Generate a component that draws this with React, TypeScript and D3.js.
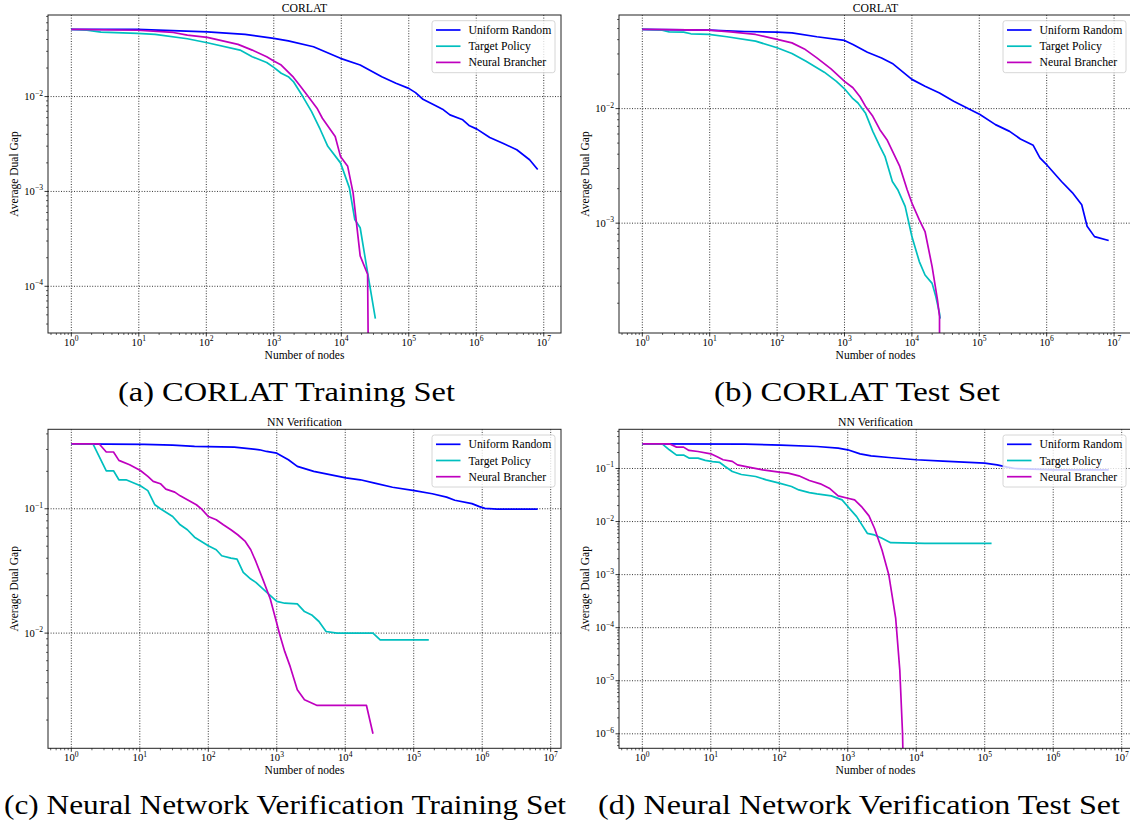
import React from 'react';
import * as d3 from 'd3';

type Pt = [number, number];

// [number of nodes, average dual gap]; a gap of 0 is the final drop to -inf on the log axis
const corlatTrainUniform: Pt[] = [[1, 0.051], [9.5, 0.051], [103.5, 0.0482], [376, 0.0452], [1000, 0.041], [1641, 0.0387], [3873, 0.0335], [9727, 0.0253], [19055, 0.0215], [39811, 0.0162], [64565, 0.0138], [1e5, 0.0122], [125893, 0.011], [162181, 0.00937], [251189, 0.00798], [316228, 0.00736], [407380, 0.00641], [630957, 0.00569], [794328, 0.00492], [1023293, 0.00454], [1584893, 0.00371], [2570396, 0.00318], [3981072, 0.00275], [6165950, 0.00216], [8128305, 0.0017]];
const corlatTrainTarget: Pt[] = [[1, 0.051], [1.7, 0.05], [2.75, 0.0478], [9.5, 0.0463], [17.4, 0.0452], [52.5, 0.0407], [103.5, 0.0369], [316, 0.0309], [479, 0.0263], [785, 0.0229], [1000, 0.0203], [1288, 0.0176], [1641, 0.0162], [1950, 0.0144], [2692, 0.01], [3631, 0.00695], [4898, 0.00447], [6310, 0.00299], [9727, 0.002], [10351, 0.00177], [13183, 0.00109], [15849, 0.000506], [19055, 0.000414], [24547, 0.000139], [31989, 0.0000457]];
const corlatTrainNeural: Pt[] = [[1, 0.051], [9.5, 0.05], [32.4, 0.0474], [52.5, 0.0445], [103.5, 0.042], [295, 0.0355], [479, 0.0309], [785, 0.0263], [1000, 0.0237], [1288, 0.0215], [1950, 0.016], [2512, 0.0127], [3236, 0.01], [4365, 0.00754], [5248, 0.00591], [8128, 0.0038], [9727, 0.00234], [12445, 0.00184], [14962, 0.000964], [19055, 0.000209], [24547, 0.000134], [25119, 0]];

const corlatTestUniform: Pt[] = [[1, 0.0491], [9.75, 0.0484], [33, 0.0471], [100, 0.0465], [166, 0.0459], [389, 0.0424], [1000, 0.0394], [1334, 0.0363], [2188, 0.0311], [3548, 0.0277], [5129, 0.0248], [10000, 0.018], [15668, 0.0157], [25704, 0.0137], [41687, 0.0116], [102329, 0.00887], [173780, 0.00725], [281838, 0.00633], [407380, 0.00543], [630957, 0.00478], [794328, 0.00371], [1023293, 0.00319], [1659587, 0.00231], [2398833, 0.00185], [3311311, 0.00145], [3981072, 0.00094], [5128614, 0.000763], [8317638, 0.000705]];
const corlatTestTarget: Pt[] = [[1, 0.0491], [1.97, 0.0484], [2.5, 0.0468], [4.1, 0.0465], [5.25, 0.045], [9.75, 0.0444], [18, 0.0424], [47.9, 0.0388], [100, 0.034], [166, 0.0303], [269, 0.0259], [501, 0.0208], [759, 0.0173], [1000, 0.0149], [1334, 0.0122], [1585, 0.0112], [2042, 0.00917], [2630, 0.00633], [3350, 0.00468], [3981, 0.00383], [5129, 0.00231], [6166, 0.00196], [7943, 0.0014], [10000, 0.000764], [12882, 0.000462], [15668, 0.000353], [19953, 0.000298], [22646, 0.000229], [25704, 0.000163], [26303, 0.000147]];
const corlatTestNeural: Pt[] = [[1, 0.0491], [9.75, 0.0484], [20.4, 0.0468], [47.9, 0.0444], [100, 0.0402], [166, 0.0375], [254, 0.0332], [389, 0.0277], [631, 0.0222], [1000, 0.0173], [1334, 0.0152], [1698, 0.0127], [2042, 0.0105], [2630, 0.00857], [3350, 0.00655], [4266, 0.00535], [6607, 0.00313], [8511, 0.00196], [10000, 0.0015], [12882, 0.00107], [15668, 0.000845], [19953, 0.000418], [23988, 0.000213], [25704, 0.000153], [25704, 0]];

const nnTrainUniform: Pt[] = [[1, 0.333], [11.6, 0.329], [30.2, 0.325], [63, 0.317], [240, 0.313], [562, 0.298], [708, 0.289], [1000, 0.28], [1479, 0.248], [1995, 0.219], [3467, 0.2], [10233, 0.177], [16596, 0.171], [26915, 0.161], [48978, 0.149], [102329, 0.14], [186209, 0.132], [301995, 0.124], [398107, 0.117], [707946, 0.11], [912011, 0.104], [1096478, 0.1007], [1659587, 0.0994], [6456542, 0.0994]];
const nnTrainTarget: Pt[] = [[1, 0.333], [2.07, 0.333], [3.24, 0.202], [4.13, 0.202], [4.95, 0.171], [6.3, 0.171], [10.2, 0.153], [13.1, 0.14], [16.6, 0.1077], [20, 0.1], [30.2, 0.0867], [38.9, 0.0743], [49.5, 0.0678], [63, 0.0591], [100, 0.0504], [130.6, 0.0468], [157, 0.0419], [214, 0.0401], [263, 0.0393], [324, 0.0308], [417, 0.0272], [495, 0.0256], [670, 0.022], [1000, 0.018], [1306, 0.0174], [1995, 0.0172], [2541, 0.0149], [3236, 0.014], [4130, 0.0124], [5248, 0.0103], [7586, 0.01], [25410, 0.01], [32359, 0.00884], [165959, 0.00884]];
const nnTrainNeural: Pt[] = [[1, 0.333], [2.54, 0.333], [3.24, 0.286], [4.13, 0.286], [4.95, 0.245], [7.1, 0.226], [10.2, 0.203], [13.1, 0.182], [15.7, 0.166], [20, 0.159], [24, 0.144], [32.4, 0.136], [38.9, 0.127], [49.5, 0.118], [67, 0.1077], [80, 0.0994], [100, 0.0867], [130.6, 0.0816], [166, 0.0743], [214, 0.0678], [269, 0.0618], [347, 0.0546], [417, 0.0468], [495, 0.0377], [631, 0.0268], [804, 0.0188], [1000, 0.012], [1096, 0.00988], [1306, 0.00713], [1567, 0.0054], [1995, 0.0035], [2541, 0.00291], [3890, 0.00262], [20417, 0.00262], [25410, 0.00155]];

const nnTestUniform: Pt[] = [[1, 0.292], [31.6, 0.289], [105, 0.275], [355, 0.26], [724, 0.242], [1000, 0.225], [1514, 0.189], [2188, 0.173], [3981, 0.161], [10000, 0.146], [24547, 0.138], [1e5, 0.126], [151356, 0.117], [213796, 0.106], [275423, 0.1], [501187, 0.097], [1047129, 0.0944], [6456542, 0.0944]];
const nnTestTarget: Pt[] = [[1, 0.292], [1.95, 0.292], [2.48, 0.225], [3.16, 0.179], [4.0, 0.179], [4.8, 0.157], [6.5, 0.157], [8.3, 0.142], [10.6, 0.135], [13.5, 0.13], [16.2, 0.109], [20.6, 0.0877], [27.9, 0.077], [45.2, 0.0707], [64.6, 0.061], [100, 0.0529], [151, 0.0457], [193, 0.0395], [275, 0.0352], [355, 0.0333], [575, 0.0305], [826, 0.0256], [1000, 0.0192], [1349, 0.0124], [1928, 0.006], [2455, 0.0056], [3162, 0.00484], [4227, 0.004], [13335, 0.00389], [125893, 0.00389]];
const nnTestNeural: Pt[] = [[1, 0.292], [2.48, 0.292], [3.16, 0.253], [4.0, 0.253], [4.8, 0.219], [6.5, 0.209], [10, 0.189], [12.6, 0.164], [15.1, 0.146], [20.6, 0.136], [24.5, 0.117], [35.5, 0.106], [57.5, 0.0944], [100, 0.0853], [135, 0.0816], [193, 0.0727], [275, 0.0593], [398, 0.0514], [537, 0.0426], [724, 0.0305], [1000, 0.0275], [1259, 0.0256], [1585, 0.0192], [2042, 0.0128], [2455, 0.00748], [3162, 0.00292], [3981, 0.00098], [4467, 0.000383], [5012, 0.000149], [5754, 0.0000158], [6310, 0.000001], [6457, 0]];

const seriesNames = ['Uniform Random', 'Target Policy', 'Neural Brancher'];
const seriesColors = ['#0000ff', '#00bfbf', '#bf00bf'];
const panelTitles = ['CORLAT', 'CORLAT', 'NN Verification', 'NN Verification'];
const captions = [
  '(a) CORLAT Training Set',
  '(b) CORLAT Test Set',
  '(c) Neural Network Verification Training Set',
  '(d) Neural Network Verification Test Set',
];

const FONT = 'Liberation Serif';

interface Frame { x0: number; y0: number; x1: number; y1: number; }

const padLog = (vals: number[]): [number, number] => {
  const lo = d3.min(vals) as number;
  const hi = d3.max(vals) as number;
  const m = (hi - lo) * 0.05;
  return [Math.pow(10, lo - m), Math.pow(10, hi + m)];
};

const Pow10: React.FC<{ x: number; y: number; exp: number; anchor: string }> = ({ x, y, exp, anchor }) => (
  <text x={x} y={y} textAnchor={anchor} fontSize={10.6} fontFamily={FONT} fill="#000">
    10<tspan dy={-4.6} fontSize={7.6}>{exp < 0 ? '\u2212' + Math.abs(exp) : String(exp)}</tspan>
  </text>
);

const Panel: React.FC<{ id: string; frame: Frame; title: string; data: Pt[][] }> = ({ id, frame, title, data }) => {
  const { x0, y0, x1, y1 } = frame;
  const all = data.flat();
  const x = d3.scaleLog().domain(padLog(all.map(d => Math.log10(d[0])))).range([x0, x1]);
  const y = d3.scaleLog().domain(padLog(all.filter(d => d[1] > 0).map(d => Math.log10(d[1])))).range([y1, y0]);

  const decades = (sc: d3.ScaleLogarithmic<number, number>) => {
    const [a, b] = sc.domain().map(Math.log10);
    const lo = Math.min(a, b), hi = Math.max(a, b);
    const major: number[] = [];
    const minor: number[] = [];
    for (let k = Math.floor(lo); k <= Math.ceil(hi); k++) {
      if (k >= lo && k <= hi) major.push(k);
      for (let m = 2; m <= 9; m++) {
        const v = k + Math.log10(m);
        if (v >= lo && v <= hi) minor.push(v);
      }
    }
    return { major, minor };
  };
  const xt = decades(x);
  const yt = decades(y);

  const line = d3.line<Pt>()
    .x(d => x(d[0]))
    .y(d => (d[1] > 0 ? y(d[1]) : y1 + 20));

  const cx = (x0 + x1) / 2;
  const cy = (y0 + y1) / 2;
  const lgW = 123, lgH = 52;
  const lgX = x1 - 6 - lgW, lgY = y0 + 5.7;

  return (
    <g>
      <defs>
        <clipPath id={id}>
          <rect x={x0} y={y0} width={x1 - x0} height={y1 - y0} />
        </clipPath>
      </defs>
      {/* grid */}
      {xt.major.map(k => (
        <line key={'gx' + k} x1={x(10 ** k)} x2={x(10 ** k)} y1={y0} y2={y1}
          stroke="#000" strokeWidth={0.8} strokeDasharray="1,1.6" />
      ))}
      {yt.major.map(k => (
        <line key={'gy' + k} y1={y(10 ** k)} y2={y(10 ** k)} x1={x0} x2={x1}
          stroke="#000" strokeWidth={0.8} strokeDasharray="1,1.6" />
      ))}
      {/* series */}
      <g clipPath={`url(#${id})`}>
        {data.map((s, i) => (
          <path key={i} d={line(s) || ''} fill="none" stroke={seriesColors[i]} strokeWidth={1.7} strokeLinejoin="round" />
        ))}
      </g>
      {/* frame */}
      <rect x={x0} y={y0} width={x1 - x0} height={y1 - y0} fill="none" stroke="#222" strokeWidth={1} />
      {/* ticks */}
      {xt.major.map(k => (
        <g key={'tx' + k}>
          <line x1={x(10 ** k)} x2={x(10 ** k)} y1={y1} y2={y1 + 3.5} stroke="#000" strokeWidth={0.8} />
          <Pow10 x={x(10 ** k)} y={y1 + 13} exp={k} anchor="middle" />
        </g>
      ))}
      {xt.minor.map(v => (
        <line key={'mx' + v} x1={x(10 ** v)} x2={x(10 ** v)} y1={y1} y2={y1 + 2} stroke="#000" strokeWidth={0.6} />
      ))}
      {yt.major.map(k => (
        <g key={'ty' + k}>
          <line x1={x0 - 3.5} x2={x0} y1={y(10 ** k)} y2={y(10 ** k)} stroke="#000" strokeWidth={0.8} />
          <Pow10 x={x0 - 5} y={y(10 ** k) + 3.6} exp={k} anchor="end" />
        </g>
      ))}
      {yt.minor.map(v => (
        <line key={'my' + v} x1={x0 - 2} x2={x0} y1={y(10 ** v)} y2={y(10 ** v)} stroke="#000" strokeWidth={0.6} />
      ))}
      {/* labels */}
      <text x={cx} y={y0 - 3.5} textAnchor="middle" fontSize={11.7} fontFamily={FONT}>{title}</text>
      <text x={cx} y={y1 + 25.5} textAnchor="middle" fontSize={11.5} fontFamily={FONT}>Number of nodes</text>
      <text transform={`translate(${x0 - 30.5},${cy}) rotate(-90)`} textAnchor="middle" fontSize={11.5} fontFamily={FONT}>
        Average Dual Gap
      </text>
      {/* legend */}
      <rect x={lgX} y={lgY} width={lgW} height={lgH} rx={2.5} fill="#fff" fillOpacity={0.8} stroke="#cccccc" strokeWidth={0.8} />
      {seriesNames.map((n, i) => {
        const ry = lgY + 9.3 + i * 16.2;
        return (
          <g key={n}>
            <line x1={lgX + 4} x2={lgX + 28.5} y1={ry} y2={ry} stroke={seriesColors[i]} strokeWidth={1.7} />
            <text x={lgX + 36.5} y={ry + 4} fontSize={11.7} fontFamily={FONT}>{n}</text>
          </g>
        );
      })}
    </g>
  );
};

const frames: Frame[] = [
  { x0: 48, y0: 15, x1: 561, y1: 333 },
  { x0: 619, y0: 15, x1: 1132, y1: 333 },
  { x0: 48, y0: 429.3, x1: 561, y1: 748.3 },
  { x0: 619, y0: 429.3, x1: 1132, y1: 748.3 },
];
const panelData: Pt[][][] = [
  [corlatTrainUniform, corlatTrainTarget, corlatTrainNeural],
  [corlatTestUniform, corlatTestTarget, corlatTestNeural],
  [nnTrainUniform, nnTrainTarget, nnTrainNeural],
  [nnTestUniform, nnTestTarget, nnTestNeural],
];
const captionPos = [
  { x: 286.5, y: 401, w: 337 },
  { x: 857, y: 401, w: 286 },
  { x: 285, y: 814, w: 562 },
  { x: 859, y: 814, w: 522 },
];

export default function App() {
  return (
    <svg width={1130} height={827} style={{ position: 'absolute', left: 0, top: 0, background: '#fff' }}>
      <rect width={1130} height={827} fill="#fff" />
      {frames.map((f, i) => (
        <Panel key={i} id={'clip' + i} frame={f} title={panelTitles[i]} data={panelData[i]} />
      ))}
      {captions.map((c, i) => (
        <text key={c} x={captionPos[i].x} y={captionPos[i].y} textAnchor="middle" fontSize={28}
          fontFamily={FONT} textLength={captionPos[i].w} lengthAdjust="spacingAndGlyphs">{c}</text>
      ))}
    </svg>
  );
}
